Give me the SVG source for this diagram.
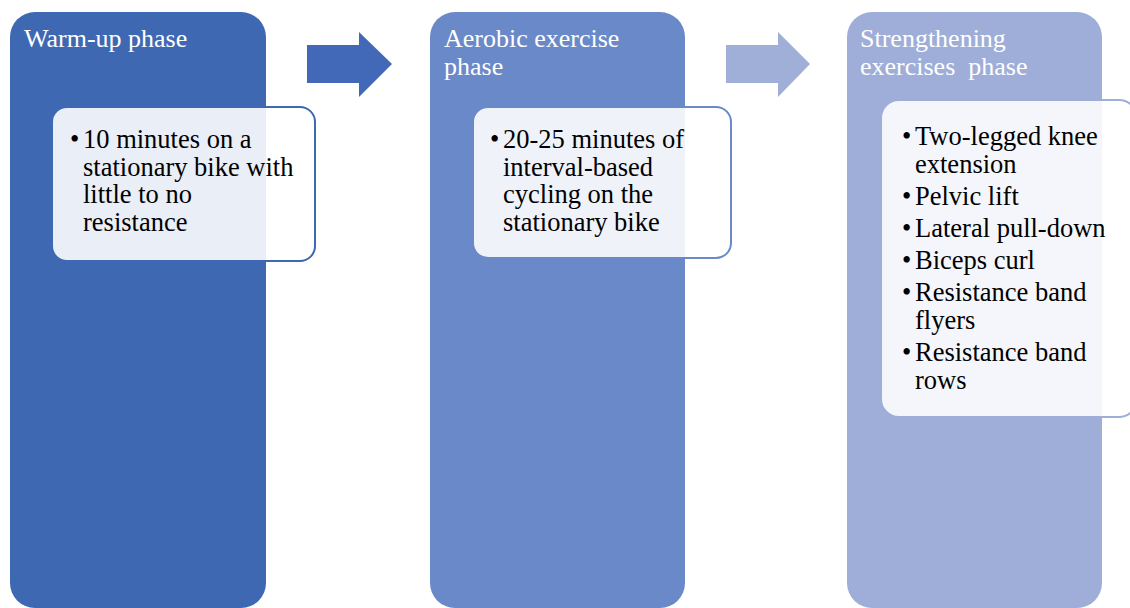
<svg xmlns="http://www.w3.org/2000/svg" width="1130" height="608" viewBox="0 0 1130 608">
  <style>
    .title { font-family: "Liberation Serif", "Times New Roman", serif; font-size: 26px; fill: #ffffff; }
    .item { font-family: "Liberation Serif", "Times New Roman", serif; font-size: 26.5px; fill: #000000; }
    .card { fill: #ffffff; fill-opacity: 0.89; stroke-width: 2; }
  </style>
  <rect width="1130" height="608" fill="#ffffff"/>

  <!-- Phase 1 -->
  <g id="phase-warmup">
    <rect x="10" y="12" width="256" height="596" rx="25" fill="#3f68b2"/>
    <text class="title" x="24" y="47">Warm-up phase</text>
  </g>
  <g id="detail-warmup" font-family="Liberation Serif, serif">
    <rect class="card" x="52" y="107" width="263" height="154" rx="15" stroke="#3f68b2"/>
    <text class="item" x="70" y="148">•</text>
    <text class="item" x="83" y="148">10 minutes on a</text>
    <text class="item" x="83" y="176">stationary bike with</text>
    <text class="item" x="83" y="203">little to no</text>
    <text class="item" x="83" y="231">resistance</text>
  </g>

  <!-- Phase 2 -->
  <g id="phase-aerobic">
    <rect x="430" y="12" width="255" height="596" rx="25" fill="#6a89c8"/>
    <text class="title" x="444" y="47">Aerobic exercise</text>
    <text class="title" x="444" y="75">phase</text>
  </g>
  <g id="detail-aerobic" font-family="Liberation Serif, serif">
    <rect class="card" x="473" y="107" width="258" height="151" rx="15" stroke="#6a89c8"/>
    <text class="item" x="490" y="148">•</text>
    <text class="item" x="503" y="148">20-25 minutes of</text>
    <text class="item" x="503" y="176">interval-based</text>
    <text class="item" x="503" y="203">cycling on the</text>
    <text class="item" x="503" y="231">stationary bike</text>
  </g>

  <!-- Phase 3 -->
  <g id="phase-strength">
    <rect x="847" y="12" width="255" height="596" rx="25" fill="#9eaed8"/>
    <text class="title" x="860" y="47">Strengthening</text>
    <text class="title" x="860" y="75">exercises&#160; phase</text>
  </g>
  <g id="detail-strength" font-family="Liberation Serif, serif">
    <rect class="card" x="881" y="100" width="256" height="317" rx="18" stroke="#9eaed8"/>
    <text class="item" x="902" y="145">•</text>
    <text class="item" x="902" y="205">•</text>
    <text class="item" x="902" y="237">•</text>
    <text class="item" x="902" y="269">•</text>
    <text class="item" x="902" y="301">•</text>
    <text class="item" x="902" y="361">•</text>
    <text class="item" x="915" y="145">Two-legged knee</text>
    <text class="item" x="915" y="173">extension</text>
    <text class="item" x="915" y="205">Pelvic lift</text>
    <text class="item" x="915" y="237">Lateral pull-down</text>
    <text class="item" x="915" y="269">Biceps curl</text>
    <text class="item" x="915" y="301">Resistance band</text>
    <text class="item" x="915" y="329">flyers</text>
    <text class="item" x="915" y="361">Resistance band</text>
    <text class="item" x="915" y="389">rows</text>
  </g>

  <!-- Block arrows between phases -->
  <g id="connectors">
    <polygon points="307,45 359,45 359,32 392,64 359,97 359,83 307,83" fill="#4169b8"/>
    <polygon points="726,45 778,45 778,32 810,64 778,97 778,83 726,83" fill="#a0afd8"/>
  </g>
</svg>
